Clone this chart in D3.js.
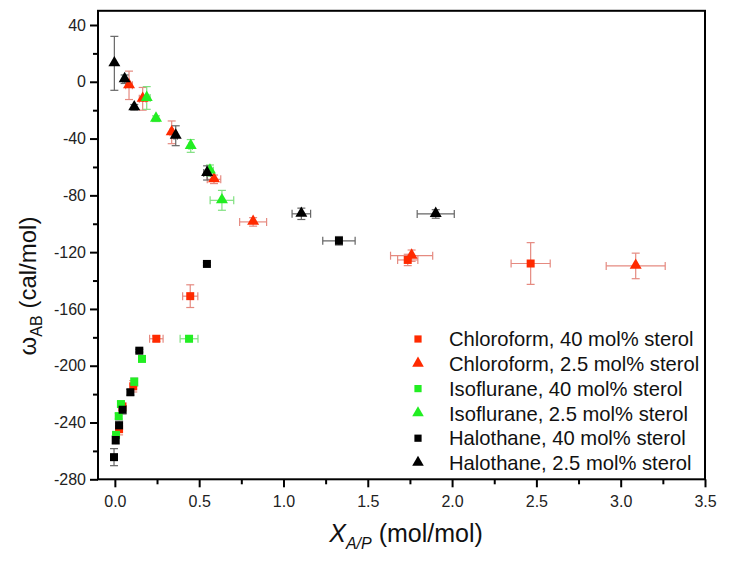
<!DOCTYPE html>
<html>
<head>
<meta charset="utf-8">
<script src="https://cdn.jsdelivr.net/npm/d3@7"></script>
<style>
  body { margin: 0; background: #fff; }
  svg text { font-family: "Liberation Sans", Arial, sans-serif; }
</style>
</head>
<body>
<svg></svg>
<script>
// each point: [x, y, xErr, yErr]
let chloroform40 = [[0.025, -244.7, 0, 4], [0.045, -229, 0, 3], [0.109, -214.5, 0.01, 4],
  [0.246, -181, 0.04, 2], [0.447, -151, 0.045, 8], [1.737, -125.5, 0.06, 4], [2.466, -128, 0.116, 14.7]]
let chloroform25 = [[0.084, -2.5, 0.02, 10], [0.165, -12, 0.02, 8], [0.337, -35.6, 0.01, 8],
  [0.588, -68.7, 0.04, 3], [0.82, -98.7, 0.08, 3], [1.76, -122.5, 0.125, 4], [3.089, -129.7, 0.175, 9]]
let isoflurane40 = [[0.007, -248.7, 0, 2], [0.023, -235.5, 0, 2], [0.036, -227, 0, 2],
  [0.115, -211.4, 0.01, 3], [0.161, -195.2, 0, 2], [0.44, -181, 0.053, 2]]
let isoflurane25 = [[0.189, -11.4, 0.02, 8], [0.244, -26, 0, 2], [0.45, -45.2, 0.01, 4.5],
  [0.564, -62.6, 0.02, 4], [0.635, -83.5, 0.07, 7]]
let halothane40 = [[-0.005, -264.4, 0, 6], [0.005, -252.3, 0, 3], [0.025, -242, 0, 3], [0.046, -231, 0, 3],
  [0.092, -218.7, 0, 2], [0.145, -189.4, 0, 1], [0.546, -128.3, 0, 1], [1.329, -112, 0.096, 3]]
let halothane25 = [[-0.003, 13, 0, 19], [0.058, 1.8, 0.01, 3], [0.115, -18, 0, 2], [0.361, -38, 0.01, 7],
  [0.547, -64.2, 0.02, 5], [1.106, -93, 0.055, 4], [1.903, -93.1, 0.11, 3]]

let xTicks = [0, 0.5, 1, 1.5, 2, 2.5, 3, 3.5]
let xMinor = [0.25, 0.75, 1.25, 1.75, 2.25, 2.75, 3.25]
let yTicks = [40, 0, -40, -80, -120, -160, -200, -240, -280]
let yMinor = [20, -20, -60, -100, -140, -180, -220, -260]

let series = [
  {name: 'Chloroform, 40 mol% sterol', data: chloroform40, shape: 'square', fill: '#ff2a00', err: '#e58a80'},
  {name: 'Chloroform, 2.5 mol% sterol', data: chloroform25, shape: 'triangle', fill: '#ff2a00', err: '#e58a80'},
  {name: 'Isoflurane, 40 mol% sterol', data: isoflurane40, shape: 'square', fill: '#22ee22', err: '#80e080'},
  {name: 'Isoflurane, 2.5 mol% sterol', data: isoflurane25, shape: 'triangle', fill: '#22ee22', err: '#80e080'},
  {name: 'Halothane, 40 mol% sterol', data: halothane40, shape: 'square', fill: '#000000', err: '#666666'},
  {name: 'Halothane, 2.5 mol% sterol', data: halothane25, shape: 'triangle', fill: '#000000', err: '#666666'}
]

let width = 729, height = 564
let plotLeft = 98, plotRight = 705, plotTop = 10.8, plotBottom = 479.3

let svg = d3.select('svg').attr('width', width).attr('height', height)

let xScale = d3.scaleLinear().domain([-0.1, 3.5]).range([plotLeft, plotRight])
let yScale = d3.scaleLinear().domain([-280, 50]).range([plotBottom, plotTop])

let symSquare = d3.symbol().type(d3.symbolSquare).size(64)
let symTri = d3.symbol().type(d3.symbolTriangle).size(62)
let legSquare = d3.symbol().type(d3.symbolSquare).size(52)
let legTri = d3.symbol().type(d3.symbolTriangle).size(58)

// error bars then markers
let plot = svg.append('g')
series.forEach(s => {
  let g = plot.append('g')
  s.data.forEach(d => {
    let cx = xScale(d[0]), cy = yScale(d[1])
    if (d[2] > 0) {
      let x1 = xScale(d[0] - d[2]), x2 = xScale(d[0] + d[2])
      g.append('line').attr('x1', x1).attr('x2', x2).attr('y1', cy).attr('y2', cy)
        .attr('stroke', s.err).attr('stroke-width', 1.2)
      ;[x1, x2].forEach(x => g.append('line').attr('x1', x).attr('x2', x)
        .attr('y1', cy - 4).attr('y2', cy + 4).attr('stroke', s.err).attr('stroke-width', 1.2))
    }
    if (d[3] > 0) {
      let y1 = yScale(d[1] - d[3]), y2 = yScale(d[1] + d[3])
      g.append('line').attr('x1', cx).attr('x2', cx).attr('y1', y1).attr('y2', y2)
        .attr('stroke', s.err).attr('stroke-width', 1.2)
      ;[y1, y2].forEach(y => g.append('line').attr('x1', cx - 4).attr('x2', cx + 4)
        .attr('y1', y).attr('y2', y).attr('stroke', s.err).attr('stroke-width', 1.2))
    }
  })
})
series.forEach(s => {
  plot.append('g').selectAll('path')
    .data(s.data)
    .enter()
    .append('path')
    .attr('d', s.shape === 'square' ? symSquare : symTri)
    .attr('transform', d => 'translate(' + xScale(d[0]) + ',' + (yScale(d[1]) + (s.shape === 'square' ? 0 : -0.5)) + ')')
    .attr('fill', s.fill)
})

// frame
svg.append('rect').attr('x', plotLeft).attr('y', plotTop)
  .attr('width', plotRight - plotLeft).attr('height', plotBottom - plotTop)
  .attr('fill', 'none').attr('stroke', '#000').attr('stroke-width', 2)

// axes
let xAxis = d3.axisBottom(xScale).tickValues(xTicks).tickSize(8).tickPadding(8)
  .tickSizeOuter(0).tickFormat(d3.format('.1f'))
let xMinorAxis = d3.axisBottom(xScale).tickValues(xMinor).tickSize(5).tickSizeOuter(0).tickFormat('')
let yAxis = d3.axisLeft(yScale).tickValues(yTicks).tickSize(8).tickPadding(4).tickSizeOuter(0)
  .tickFormat(d => String(d))
let yMinorAxis = d3.axisLeft(yScale).tickValues(yMinor).tickSize(5).tickSizeOuter(0).tickFormat('')

;[xAxis, xMinorAxis].forEach(a => {
  let g = svg.append('g').attr('transform', 'translate(0,' + plotBottom + ')').call(a)
  g.select('.domain').remove()
  g.selectAll('line').attr('stroke-width', 2)
  g.selectAll('text').attr('font-size', 16).attr('fill', '#222')
    .attr('font-family', '"Liberation Sans", Arial, sans-serif')
})
;[yAxis, yMinorAxis].forEach(a => {
  let g = svg.append('g').attr('transform', 'translate(' + plotLeft + ',0)').call(a)
  g.select('.domain').remove()
  g.selectAll('line').attr('stroke-width', 2)
  g.selectAll('text').attr('font-size', 16).attr('fill', '#222')
    .attr('font-family', '"Liberation Sans", Arial, sans-serif')
})

// axis titles
let xTitle = svg.append('text').attr('x', 406).attr('y', 542)
  .attr('text-anchor', 'middle').attr('font-size', 25).attr('fill', '#111')
xTitle.append('tspan').attr('font-style', 'italic').text('X')
xTitle.append('tspan').attr('font-style', 'italic').attr('font-size', 16).attr('dy', 7).text('A/P')
xTitle.append('tspan').attr('dy', -7).text(' (mol/mol)')

let yTitle = svg.append('text').attr('transform', 'translate(36,286) rotate(-90)')
  .attr('text-anchor', 'middle').attr('font-size', 24).attr('fill', '#111')
yTitle.append('tspan').text('ω')
yTitle.append('tspan').attr('font-size', 16).attr('dy', 6).text('AB')
yTitle.append('tspan').attr('dy', -6).text(' (cal/mol)')

// legend
let legend = svg.append('g')
series.forEach((s, i) => {
  let y = 339 + i * 24.8
  legend.append('path')
    .attr('d', s.shape === 'square' ? legSquare : legTri)
    .attr('transform', 'translate(418,' + (y + (s.shape === 'square' ? 0 : -0.5)) + ')')
    .attr('fill', s.fill)
  legend.append('text').attr('x', 449).attr('y', y).attr('dy', '0.36em')
    .attr('font-size', 20.2).attr('fill', '#111').text(s.name)
})
</script>
</body>
</html>
